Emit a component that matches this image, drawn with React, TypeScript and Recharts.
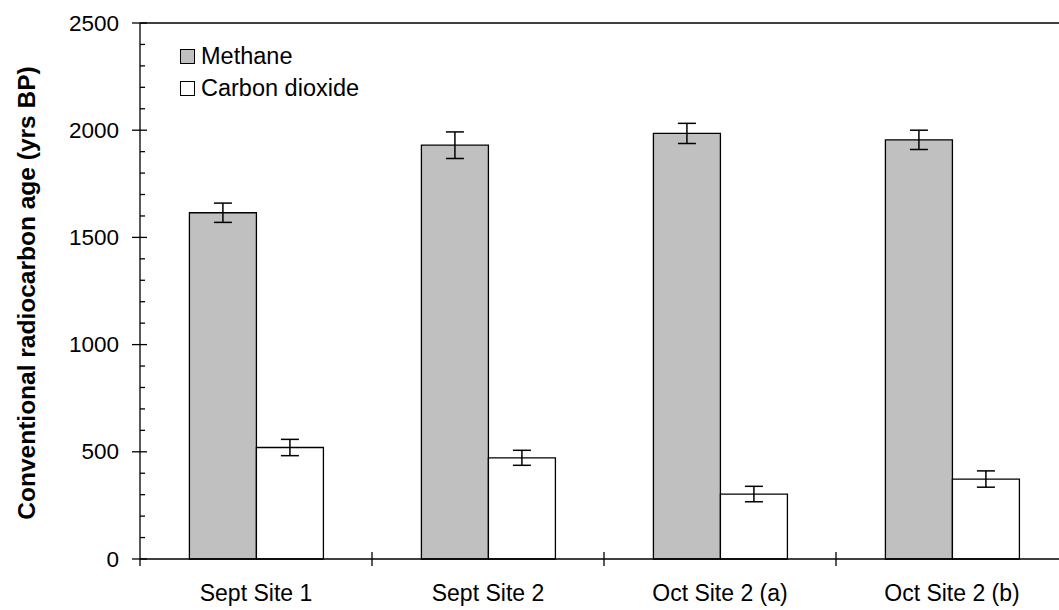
import React from 'react';
import {
  Bar,
  BarChart,
  ErrorBar,
  Label,
  Legend,
  ReferenceLine,
  XAxis,
  YAxis,
} from 'recharts';

const sites = ['Sept Site 1', 'Sept Site 2', 'Oct Site 2 (a)', 'Oct Site 2 (b)'];
const seriesNames = ['Methane', 'Carbon dioxide'];
const methane = [1615, 1930, 1985, 1955];
const methaneErr = [45, 62, 47, 45];
const carbonDioxide = [520, 472, 303, 373];
const carbonDioxideErr = [38, 35, 36, 38];
const yTicks = [
  0, 100, 200, 300, 400, 500, 600, 700, 800, 900, 1000, 1100, 1200, 1300,
  1400, 1500, 1600, 1700, 1800, 1900, 2000, 2100, 2200, 2300, 2400, 2500,
];
const majorTicks = [0, 500, 1000, 1500, 2000, 2500];

const data = sites.map((site, i) => ({
  site,
  methane: methane[i],
  methaneErr: methaneErr[i],
  co2: carbonDioxide[i],
  co2Err: carbonDioxideErr[i],
}));

const FONT = '"Liberation Sans", Arial, Helvetica, sans-serif';
const CHART_W = 1070;
const CHART_H = 610;
const MARGIN = { top: 23, right: 2, bottom: 0, left: 60 };
const Y_W = 80;
const BAND = (CHART_W - MARGIN.left - MARGIN.right - Y_W) / sites.length;

const YTick = (props: any) => {
  const { x, y, payload } = props;
  if (!majorTicks.includes(payload.value)) {
    return <line x1={x} x2={x + 5} y1={y} y2={y} stroke="#000" strokeWidth={1.3} />;
  }
  return (
    <g>
      <line x1={x - 8} x2={x + 7} y1={y} y2={y} stroke="#000" strokeWidth={1.3} />
      <text
        x={x - 21}
        y={y}
        textAnchor="end"
        dominantBaseline="central"
        fontSize={22.5}
        fontFamily={FONT}
        fill="#000"
      >
        {payload.value}
      </text>
    </g>
  );
};

const XTick = (props: any) => {
  const { x, y, payload, index } = props;
  const half = BAND / 2;
  return (
    <g>
      {index === 0 && (
        <line x1={x - half} x2={x - half} y1={y} y2={y + 7} stroke="#000" strokeWidth={1.3} />
      )}
      <line x1={x + half} x2={x + half} y1={y - 7} y2={y + 7} stroke="#000" strokeWidth={1.3} />
      <text x={x} y={y + 42} textAnchor="middle" fontSize={23} fontFamily={FONT} fill="#000">
        {payload.value}
      </text>
    </g>
  );
};

const LegendBox = ({ payload }: any) => {
  const items = [...(payload || [])].sort(
    (a: any, b: any) => seriesNames.indexOf(a.value) - seriesNames.indexOf(b.value)
  );
  return (
    <div style={{ fontFamily: FONT, fontSize: 23.5, color: '#000' }}>
      {items.map((entry: any) => (
        <div key={entry.value} style={{ display: 'flex', alignItems: 'center', height: 32 }}>
          <span
            style={{
              display: 'inline-block',
              width: 15,
              height: 15,
              boxSizing: 'border-box',
              border: '1.5px solid #000',
              background: entry.color,
              marginRight: 6,
            }}
          />
          {entry.value}
        </div>
      ))}
    </div>
  );
};

const App = () => {
  return (
    <div
      style={{
        position: 'absolute',
        left: 0,
        top: 0,
        width: 1059,
        height: 610,
        overflow: 'hidden',
        background: '#fff',
      }}
    >
      <BarChart
        width={CHART_W}
        height={CHART_H}
        data={data}
        margin={MARGIN}
        barCategoryGap="21.3%"
        barGap={0}
      >
        <XAxis
          dataKey="site"
          height={51}
          tickSize={0}
          tickMargin={0}
          tickLine={false}
          interval={0}
          tick={<XTick />}
          axisLine={{ stroke: '#000', strokeWidth: 1.3 }}
        />
        <YAxis
          width={Y_W}
          type="number"
          domain={[0, 2500]}
          ticks={yTicks}
          interval={0}
          tickSize={0}
          tickMargin={0}
          tickLine={false}
          tick={<YTick />}
          axisLine={{ stroke: '#000', strokeWidth: 1.3 }}
        >
          <Label
            content={({ viewBox }: any) => {
              const cy = viewBox.y + viewBox.height / 2 + 2;
              return (
                <text
                  x={26}
                  y={cy}
                  transform={`rotate(-90 26 ${cy})`}
                  textAnchor="middle"
                  dominantBaseline="central"
                  fontWeight="bold"
                  fontSize={24.5}
                  fontFamily={FONT}
                  fill="#000"
                >
                  Conventional radiocarbon age (yrs BP)
                </text>
              );
            }}
          />
        </YAxis>
        <ReferenceLine y={2500} stroke="#000" strokeWidth={1.3} />
        <Legend
          layout="vertical"
          align="center"
          verticalAlign="middle"
          wrapperStyle={{ top: 40, left: 180, width: 'auto' }}
          content={<LegendBox />}
        />
        <Bar
          dataKey="methane"
          name={seriesNames[0]}
          fill="#c0c0c0"
          stroke="#000"
          strokeWidth={1.3}
          isAnimationActive={false}
        >
          <ErrorBar dataKey="methaneErr" width={9} stroke="#000" strokeWidth={1.5} direction="y" isAnimationActive={false} />
        </Bar>
        <Bar
          dataKey="co2"
          name={seriesNames[1]}
          fill="#ffffff"
          stroke="#000"
          strokeWidth={1.3}
          isAnimationActive={false}
        >
          <ErrorBar dataKey="co2Err" width={9} stroke="#000" strokeWidth={1.5} direction="y" isAnimationActive={false} />
        </Bar>
      </BarChart>
    </div>
  );
};

export default App;
